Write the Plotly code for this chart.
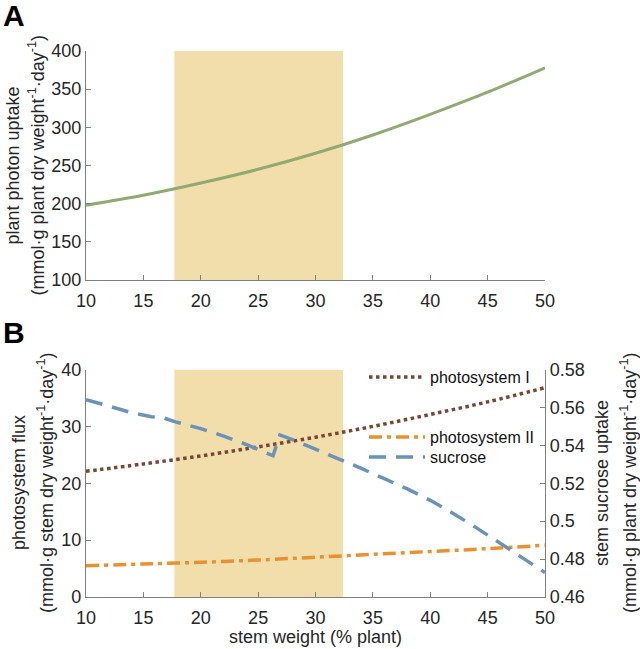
import plotly.graph_objects as go

# ---------------- data ----------------
stem_weight = [10, 15, 20, 25, 30, 35, 40, 45, 50]
photon_uptake = [198, 211, 227, 245, 266, 290, 317, 346, 378]

ps_x = [10, 15, 20, 25, 30, 35, 40, 45, 50]
photosystem_I = [22.1, 23.4, 24.8, 26.4, 28.1, 30.0, 32.1, 34.3, 36.8]
photosystem_II = [5.5, 5.8, 6.1, 6.5, 7.0, 7.5, 8.0, 8.5, 9.1]

sucrose_x = [10, 12, 14, 15.7, 16.6, 17.8, 20, 22, 24, 26.3, 26.9, 28.1, 30, 32, 34, 36, 38, 40, 42, 44, 46, 48, 50]
sucrose = [0.5641, 0.5608, 0.5572, 0.5551, 0.5548, 0.5524, 0.5488, 0.5449, 0.5404, 0.5345, 0.5455, 0.5428,
           0.5380, 0.5332, 0.5278, 0.5224, 0.5170, 0.5110, 0.5041, 0.4966, 0.4888, 0.4810, 0.4729]

shade_range = [17.7, 32.4]

xticks = [10, 15, 20, 25, 30, 35, 40, 45, 50]
yticks_A = [100, 150, 200, 250, 300, 350, 400]
yticks_B = [0, 10, 20, 30, 40]
yticks_B_right = [0.46, 0.48, 0.5, 0.52, 0.54, 0.56, 0.58]
yticks_B_right_text = ["0.46", "0.48", "0.5", "0.52", "0.54", "0.56", "0.58"]

# ---------------- style / layout ----------------
FONT = "Liberation Sans, Arial, sans-serif"
AX = "#808080"
TXT = "#262626"
GREEN = "#8FAB72"
BROWN = "#7A4535"
ORANGE = "#E8912E"
BLUE = "#6A93BA"
SHADE = "#F2DEAA"

W, H = 640, 649
L, R, T, B = 86, 95, 51, 52
PW, PH = W - L - R, H - T - B


def px(xp):
    return (xp - L) / PW


def py(yp):
    return (H - B - yp) / PH


fig = go.Figure()

fig.add_trace(go.Scatter(x=stem_weight, y=photon_uptake, mode="lines",
                         line=dict(color=GREEN, width=3, shape="spline"),
                         xaxis="x", yaxis="y", showlegend=False))

fig.add_trace(go.Scatter(x=ps_x, y=photosystem_I, mode="lines", name="photosystem I",
                         line=dict(color=BROWN, width=3.5, dash="dot", shape="spline"),
                         xaxis="x2", yaxis="y2", legend="legend"))
fig.add_trace(go.Scatter(x=ps_x, y=photosystem_II, mode="lines", name="photosystem II",
                         line=dict(color=ORANGE, width=3.5, dash="13px,5px,4px,5px", shape="spline"),
                         xaxis="x2", yaxis="y2", legend="legend2"))
fig.add_trace(go.Scatter(x=sucrose_x, y=sucrose, mode="lines", name="sucrose",
                         line=dict(color=BLUE, width=3.5, dash="17px,10px"),
                         xaxis="x2", yaxis="y3", legend="legend3"))

# shaded range
fig.add_shape(type="rect", xref="x", yref="y", x0=shade_range[0], x1=shade_range[1], y0=100, y1=400,
              fillcolor=SHADE, line_width=0, layer="below")
fig.add_shape(type="rect", xref="x2", yref="y2", x0=shade_range[0], x1=shade_range[1], y0=0, y1=40,
              fillcolor=SHADE, line_width=0, layer="below")

tickfont = dict(family=FONT, size=18, color=TXT)
common = dict(ticks="inside", ticklen=5, tickcolor=AX, showline=True, linecolor=AX, linewidth=1.2,
              showgrid=False, zeroline=False, tickfont=tickfont, automargin=False)


def xax(anchor):
    return dict(range=[10, 50], tickvals=xticks, anchor=anchor, ticklabelstandoff=4, **common)


legfont = dict(family=FONT, size=16, color="#111111")


def leg(ytop):
    return dict(x=px(364), y=py(ytop), xanchor="left", yanchor="top", bgcolor="rgba(0,0,0,0)",
                font=legfont, itemwidth=56)


def title_ann(text, xc, yc):
    return dict(text=text, xref="paper", yref="paper", x=px(xc), y=py(yc), xanchor="center",
                yanchor="middle", textangle=-90, showarrow=False,
                font=dict(family=FONT, size=18, color=TXT))


unit_plant = "(mmol·g plant dry weight<sup>-1</sup>·day<sup>-1</sup>)"
unit_stem = "(mmol·g stem dry weight<sup>-1</sup>·day<sup>-1</sup>)"

fig.update_layout(
    width=W, height=H,
    margin=dict(l=L, r=R, t=T, b=B),
    paper_bgcolor="white", plot_bgcolor="white",
    xaxis=xax("y"),
    yaxis=dict(domain=[py(280), 1.0], range=[100, 400], tickvals=yticks_A, anchor="x", **common),
    xaxis2=xax("y2"),
    yaxis2=dict(domain=[0.0, py(369.5)], range=[0, 40], tickvals=yticks_B, anchor="x2", **common),
    yaxis3=dict(overlaying="y2", side="right", anchor="x2", range=[0.46, 0.58], tickvals=yticks_B_right,
                ticktext=yticks_B_right_text, **common),
    legend=leg(360),
    legend2=leg(420),
    legend3=leg(440),
    annotations=[
        dict(text="<b>A</b>", xref="paper", yref="paper", x=px(1), y=py(15), xanchor="left",
             yanchor="middle", showarrow=False, font=dict(family=FONT, size=30, color="black")),
        dict(text="<b>B</b>", xref="paper", yref="paper", x=px(1), y=py(333), xanchor="left",
             yanchor="middle", showarrow=False, font=dict(family=FONT, size=30, color="black")),
        title_ann("plant photon uptake", 12, 165.5),
        title_ann(unit_plant, 37, 165.5),
        title_ann("photosystem flux", 19, 483),
        title_ann(unit_stem, 45, 483),
        title_ann("stem sucrose uptake", 602, 483),
        title_ann(unit_plant, 628, 483),
        dict(text="stem weight (% plant)", xref="paper", yref="paper", x=px(315), y=py(637),
             xanchor="center", yanchor="middle", showarrow=False,
             font=dict(family=FONT, size=18, color=TXT)),
    ],
)

fig.write_html("out.html", config={"displayModeBar": False},
               post_script="document.body.style.margin='0';document.body.style.overflow='hidden';")
